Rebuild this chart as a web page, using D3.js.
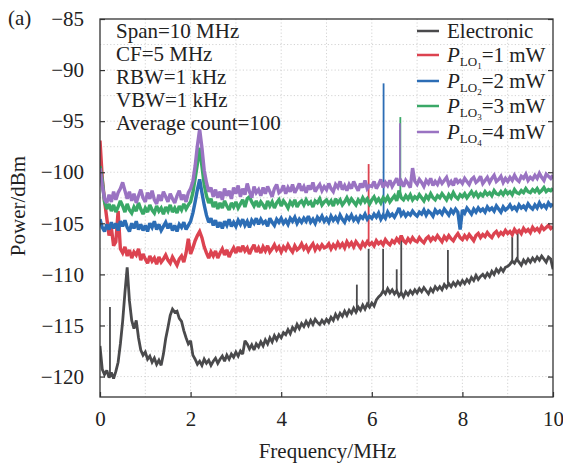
<!DOCTYPE html>
<html><head><meta charset="utf-8">
<script src="https://cdn.jsdelivr.net/npm/d3@7"></script>
<style>body{margin:0;background:#fff}svg{display:block}text{font-family:"Liberation Serif","Times New Roman",serif;fill:#222}</style>
</head><body><svg id="c" width="563" height="464"></svg>
<script>
// ---------- data ----------
const freqStep = 0.05; // MHz sample spacing
const xTicks = [0, 2, 4, 6, 8, 10];
const yTicks = [-85, -90, -95, -100, -105, -110, -115, -120];
const seriesNames = ["Electronic", "P_LO1", "P_LO2", "P_LO3", "P_LO4"];
const seriesLabels = ["1", "2", "3", "4"];
const annotations = ["Span=10 MHz", "CF=5 MHz", "RBW=1 kHz", "VBW=1 kHz", "Average count=100"];

const electronic = [
-117.0,-119.3,-119.8,-119.4,-120.1,-119.6,-120.2,-119.5,-118.6,-116.8,
-114.6,-111.8,-109.3,-112.6,-114.5,-115.3,-114.5,-116.2,-117.4,-117.9,
-117.6,-118.3,-118.0,-118.6,-118.2,-118.8,-118.4,-118.9,-117.8,-116.3,
-115.2,-114.0,-113.4,-113.7,-113.6,-114.3,-114.6,-115.5,-116.2,-116.8,
-116.5,-117.9,-118.3,-118.8,-118.5,-118.9,-118.3,-118.7,-118.4,-118.9,
-118.5,-118.2,-118.7,-118.3,-118.0,-118.5,-117.9,-118.3,-117.8,-118.1,
-117.6,-118.0,-117.5,-117.8,-116.5,-116.8,-117.3,-116.9,-117.4,-116.8,
-117.1,-116.6,-117.0,-116.4,-116.8,-116.2,-116.6,-116.0,-116.4,-115.9,
-116.2,-115.7,-115.9,-115.4,-115.8,-115.2,-115.5,-114.9,-115.3,-114.8,
-115.1,-114.6,-115.0,-114.5,-114.9,-114.4,-114.7,-114.9,-114.5,-114.8,
-114.4,-114.7,-114.2,-114.5,-113.9,-114.3,-113.8,-114.1,-113.6,-114.0,
-113.5,-113.8,-113.3,-113.7,-113.2,-113.5,-113.0,-113.4,-112.9,-113.2,
-112.8,-113.1,-112.5,-112.2,-112.0,-111.6,-111.9,-111.4,-111.8,-111.5,
-111.9,-111.6,-112.1,-111.8,-112.2,-111.7,-112.0,-111.6,-111.9,-111.5,
-111.8,-111.4,-111.7,-111.3,-111.6,-111.9,-111.4,-111.7,-111.2,-111.5,
-111.2,-111.5,-111.0,-111.3,-110.9,-111.2,-110.8,-111.1,-110.7,-111.0,
-110.6,-110.9,-110.5,-110.8,-110.3,-110.6,-110.1,-110.5,-110.2,-110.0,
-110.3,-109.9,-110.2,-109.7,-110.0,-109.5,-109.8,-109.4,-109.7,-109.3,
-109.2,-109.0,-108.7,-108.9,-108.5,-108.8,-109.1,-108.6,-108.9,-108.5,
-108.8,-108.4,-108.7,-108.3,-108.6,-108.2,-108.5,-108.8,-108.3,-108.5,
-109.5];
const electronicSpikeF = [0.22, 5.67, 5.93, 6.25, 6.55, 6.65, 7.68, 9.10, 9.22];
const electronicSpikeV = [-113.2, -111.0, -107.5, -107.5, -109.5, -106.5, -107.6, -106.3, -105.8];

const pLO1 = [
-96.9,-100.6,-102.8,-104.5,-106.2,-105.4,-107.2,-106.8,-103.8,-107.5,
-107.9,-107.3,-108.2,-107.6,-108.4,-107.8,-108.1,-107.5,-108.6,-108.0,
-108.5,-108.9,-108.2,-108.7,-108.4,-109.0,-108.3,-108.8,-108.5,-108.1,
-108.6,-108.9,-108.3,-108.7,-109.1,-108.5,-108.2,-108.8,-107.9,-106.5,
-108.0,-107.4,-106.7,-106.2,-105.8,-106.4,-107.3,-107.9,-108.4,-107.8,
-108.2,-107.7,-108.4,-107.9,-107.5,-108.1,-107.6,-108.3,-107.8,-107.4,
-107.9,-107.3,-107.8,-107.2,-107.7,-107.4,-108.0,-107.5,-107.1,-107.8,
-107.4,-107.9,-107.3,-107.7,-107.2,-107.8,-107.5,-107.1,-107.6,-107.3,
-107.8,-107.3,-107.6,-107.1,-107.5,-107.8,-107.2,-107.6,-107.4,-107.0,
-107.5,-107.2,-107.7,-107.3,-107.0,-107.6,-107.2,-107.5,-107.1,-107.4,
-107.3,-107.0,-107.5,-107.1,-107.4,-106.9,-107.3,-107.0,-107.4,-106.8,
-107.2,-106.9,-107.3,-106.8,-107.1,-107.4,-106.9,-107.2,-106.8,-107.1,
-106.9,-107.2,-106.7,-107.0,-106.8,-107.1,-106.6,-106.9,-107.1,-106.7,
-106.9,-106.5,-106.8,-106.2,-106.7,-106.9,-106.5,-106.8,-106.4,-106.7,
-106.8,-106.4,-106.7,-106.9,-106.5,-106.3,-106.7,-106.4,-106.6,-106.2,
-106.5,-106.8,-106.3,-106.6,-106.2,-106.5,-106.7,-106.3,-106.0,-106.4,
-106.6,-106.2,-106.5,-106.1,-106.4,-106.7,-106.2,-106.0,-106.4,-106.1,
-106.3,-105.9,-106.2,-106.4,-106.0,-105.8,-106.2,-105.9,-106.1,-105.7,
-106.0,-105.8,-106.1,-105.6,-105.9,-105.7,-106.0,-105.5,-105.8,-105.6,
-105.9,-105.4,-105.7,-105.5,-105.8,-105.3,-105.6,-105.4,-105.2,-105.5,
-105.3];
const pLO1SpikeF = [5.93];
const pLO1SpikeV = [-99.2];

const pLO2 = [
-104.6,-105.4,-105.8,-105.1,-105.6,-104.9,-105.5,-105.0,-105.7,-104.8,
-105.3,-104.7,-105.4,-105.8,-105.0,-105.5,-104.8,-105.6,-105.1,-105.7,
-105.2,-105.8,-105.0,-105.4,-104.8,-105.6,-105.1,-105.7,-105.3,-104.9,
-105.5,-105.0,-105.7,-105.2,-105.8,-105.1,-105.4,-104.9,-105.6,-105.2,
-104.8,-104.0,-102.9,-101.7,-100.7,-102.0,-103.2,-104.2,-104.9,-104.5,
-105.2,-104.7,-105.4,-104.9,-105.5,-104.8,-105.2,-104.6,-105.3,-104.9,
-105.3,-104.7,-105.1,-104.6,-105.2,-104.8,-105.4,-104.7,-105.0,-104.5,
-105.1,-104.6,-105.0,-104.8,-105.3,-104.5,-104.9,-105.2,-104.6,-104.9,
-104.5,-105.0,-104.7,-105.1,-104.5,-104.8,-104.4,-105.0,-104.6,-104.9,
-104.5,-104.8,-104.3,-104.9,-104.6,-105.0,-104.4,-104.7,-104.3,-104.8,
-104.5,-104.9,-104.3,-104.7,-104.4,-104.8,-104.2,-104.6,-104.9,-104.3,
-104.6,-104.2,-104.7,-104.4,-104.8,-104.3,-104.5,-104.1,-104.6,-104.3,
-104.5,-104.1,-104.4,-104.0,-104.6,-104.2,-104.5,-103.9,-104.3,-104.1,
-104.4,-104.0,-103.5,-104.2,-103.9,-104.3,-104.0,-104.2,-103.8,-104.1,
-104.3,-103.9,-104.1,-103.7,-104.2,-103.8,-104.0,-104.3,-103.7,-104.0,
-103.8,-104.1,-103.6,-103.9,-104.2,-103.7,-104.0,-103.6,-103.9,-105.6,
-103.7,-104.0,-103.5,-103.8,-104.1,-103.6,-103.9,-103.5,-103.8,-103.6,
-103.9,-103.4,-103.7,-103.5,-103.8,-103.3,-103.6,-103.9,-103.4,-103.7,
-103.5,-103.2,-103.6,-103.4,-103.7,-103.2,-103.5,-103.3,-103.6,-103.1,
-103.4,-103.6,-103.2,-103.5,-103.0,-103.4,-103.2,-103.5,-103.0,-103.3,
-103.1];
const pLO2SpikeF = [6.26];
const pLO2SpikeV = [-91.3];

const pLO3 = [
-99.4,-100.8,-102.9,-103.6,-103.1,-103.8,-103.2,-103.9,-103.4,-102.8,
-103.3,-103.9,-103.1,-103.7,-104.0,-103.4,-103.8,-103.0,-103.6,-104.1,
-103.5,-103.9,-103.2,-103.7,-104.0,-103.3,-103.8,-103.5,-104.1,-103.4,
-103.8,-103.2,-103.9,-103.5,-104.0,-103.3,-103.7,-103.1,-103.6,-103.2,
-102.9,-102.0,-100.6,-99.2,-97.6,-99.4,-101.2,-102.3,-103.0,-102.6,
-103.4,-102.9,-103.6,-103.0,-103.5,-102.8,-103.3,-103.7,-103.0,-103.4,
-102.9,-103.5,-103.1,-102.7,-103.4,-102.6,-102.4,-102.9,-103.3,-102.8,
-103.4,-102.9,-103.2,-103.6,-102.8,-103.3,-102.9,-103.5,-103.0,-102.7,
-103.3,-102.8,-103.1,-103.5,-102.9,-103.2,-102.7,-103.4,-103.0,-102.8,
-103.2,-102.7,-103.1,-102.9,-103.4,-102.8,-103.0,-102.6,-103.2,-102.9,
-102.7,-103.1,-102.8,-103.3,-102.6,-103.0,-102.7,-103.2,-102.9,-102.5,
-103.0,-102.6,-102.9,-103.2,-102.7,-103.0,-102.5,-102.9,-102.6,-103.1,
-102.7,-102.4,-102.9,-102.6,-103.0,-102.5,-102.8,-102.4,-102.9,-102.6,
-102.3,-102.8,-101.8,-102.5,-102.7,-102.3,-102.6,-102.2,-102.7,-102.4,
-102.6,-102.2,-102.5,-102.8,-102.3,-102.6,-102.1,-102.5,-102.7,-102.3,
-102.5,-102.1,-102.4,-102.7,-102.2,-102.5,-102.0,-102.4,-102.6,-102.2,
-102.4,-102.1,-102.5,-102.2,-101.9,-102.3,-102.0,-102.4,-102.1,-102.3,
-101.9,-102.2,-102.0,-102.3,-101.8,-102.1,-102.2,-101.9,-102.2,-101.8,
-102.1,-101.9,-102.2,-101.7,-102.0,-102.1,-101.8,-102.0,-101.6,-101.9,
-102.0,-101.7,-101.9,-101.6,-102.0,-101.8,-101.5,-101.9,-101.7,-101.8,
-101.6];
const pLO3SpikeF = [6.63];
const pLO3SpikeV = [-94.6];

const pLO4 = [
-99.6,-101.3,-102.6,-103.0,-102.2,-102.9,-101.9,-102.7,-102.0,-101.6,
-101.0,-101.8,-102.6,-101.9,-102.8,-102.1,-103.0,-102.3,-101.7,-102.5,
-102.9,-102.0,-102.6,-101.8,-102.7,-103.1,-102.2,-102.8,-101.9,-102.4,
-102.9,-102.1,-102.6,-103.0,-102.3,-101.8,-102.7,-102.2,-102.9,-102.0,
-101.6,-100.9,-99.4,-97.4,-95.8,-97.6,-99.8,-101.0,-101.9,-101.5,
-102.4,-101.7,-102.5,-101.9,-102.7,-101.6,-102.3,-101.8,-102.6,-101.5,
-102.1,-101.3,-102.4,-101.6,-102.2,-101.1,-101.9,-102.5,-101.4,-102.0,
-101.7,-102.3,-101.5,-102.1,-101.4,-101.9,-102.4,-101.6,-101.2,-102.0,
-101.8,-101.3,-102.1,-101.5,-101.9,-101.2,-102.0,-101.6,-101.1,-101.8,
-101.4,-102.0,-101.3,-101.7,-101.0,-101.9,-101.5,-101.2,-101.8,-101.4,
-101.7,-101.1,-101.6,-101.9,-101.2,-101.5,-100.9,-101.7,-101.3,-101.8,
-101.2,-101.6,-100.9,-101.4,-101.8,-101.1,-101.5,-100.8,-101.6,-101.3,
-101.4,-100.9,-101.6,-101.2,-100.7,-101.5,-101.0,-101.3,-100.8,-101.4,
-101.0,-100.6,-101.3,-100.9,-101.4,-100.8,-101.1,-101.5,-99.6,-100.9,
-101.2,-100.7,-101.0,-101.4,-100.8,-101.1,-100.6,-101.3,-100.9,-101.2,
-100.7,-101.1,-100.8,-100.5,-101.2,-100.9,-101.3,-100.6,-101.0,-100.8,
-101.1,-100.6,-100.9,-101.2,-100.7,-100.5,-101.0,-100.8,-100.4,-101.1,
-100.8,-100.5,-101.0,-100.6,-100.3,-100.9,-100.7,-100.4,-101.0,-100.6,
-100.9,-100.5,-100.8,-100.3,-100.7,-100.9,-100.4,-100.6,-100.2,-100.8,
-100.5,-100.7,-100.3,-100.6,-100.1,-100.5,-100.8,-100.2,-100.4,-100.6,
-100.3];
const pLO4SpikeF = [6.62];
const pLO4SpikeV = [-95.2];

const colors = ["#4a4a4c", "#dc4350", "#2c6db5", "#3aa867", "#9a73c2"];

// ---------- chart ----------
const W = 563, H = 464;
const m = {left: 100, right: 10, top: 19, bottom: 67};
const svg = d3.select("#c");
const x = d3.scaleLinear().domain([0, 10]).range([m.left, W - m.right]);
const y = d3.scaleLinear().domain([-122, -85]).range([H - m.bottom, m.top]);

const seriesDefs = [
  [electronic, electronicSpikeF, electronicSpikeV],
  [pLO1, pLO1SpikeF, pLO1SpikeV],
  [pLO2, pLO2SpikeF, pLO2SpikeV],
  [pLO3, pLO3SpikeF, pLO3SpikeV],
  [pLO4, pLO4SpikeF, pLO4SpikeV]
];
const traces = seriesDefs.map(([vals]) => vals.map((v, i) => [i * freqStep, v]));
const spikes = seriesDefs.map(([vals, sf, sv]) =>
  sf.map((f, k) => [[f, vals[Math.round(f / freqStep)]], [f, sv[k]]]));

// grid
const g = svg.append("g");
g.selectAll(".gx").data(d3.range(1, 10)).join("line")
  .attr("x1", d => x(d)).attr("x2", d => x(d)).attr("y1", y(-85)).attr("y2", y(-122))
  .attr("stroke", "#c8c8c8").attr("stroke-width", 0.8).attr("stroke-dasharray", "1.2,2.2");
g.selectAll(".gy").data(d3.range(-120, -85, 2.5)).join("line")
  .attr("y1", d => y(d)).attr("y2", d => y(d)).attr("x1", x(0)).attr("x2", x(10))
  .attr("stroke", "#c8c8c8").attr("stroke-width", 0.8).attr("stroke-dasharray", "1.2,2.2");

// clip
svg.append("clipPath").attr("id", "clip").append("rect")
  .attr("x", x(0)).attr("y", y(-85)).attr("width", x(10) - x(0)).attr("height", y(-122) - y(-85));

const line = d3.line().x(d => x(d[0])).y(d => y(d[1]));
const plot = svg.append("g").attr("clip-path", "url(#clip)");
traces.forEach((tr, i) => {
  plot.append("path").attr("d", line(tr)).attr("fill", "none").attr("stroke", colors[i])
    .attr("stroke-width", i === 0 ? 2.8 : 3.4).attr("stroke-linejoin", "miter").attr("stroke-miterlimit", 2.5);
  spikes[i].forEach(s => {
    plot.append("path").attr("d", line(s)).attr("fill", "none").attr("stroke", colors[i])
      .attr("stroke-width", 1.8);
  });
});

// axes
const xAxis = d3.axisBottom(x).tickValues(xTicks).tickSize(-5).tickPadding(14).tickFormat(d3.format("d"));
const gx = svg.append("g").attr("transform", `translate(0,${y(-122)})`).call(xAxis);
const fmt = d => (d < 0 ? "\u2212" + Math.abs(d) : d);
const yAxis = d3.axisLeft(y).tickValues(yTicks).tickSize(-5).tickPadding(16).tickFormat(fmt);
const gy = svg.append("g").attr("transform", `translate(${x(0)},0)`).call(yAxis);
const yAxisR = d3.axisRight(y).tickValues(yTicks).tickSize(-5).tickFormat("");
const gyr = svg.append("g").attr("transform", `translate(${x(10)},0)`).call(yAxisR);
[gx, gy, gyr].forEach(a => {
  a.select(".domain").remove();
  a.selectAll(".tick line").attr("stroke", "#333").attr("stroke-width", 1.2);
  a.selectAll("text").attr("font-size", 21).attr("fill", "#222")
    .attr("font-family", "'Liberation Serif','Times New Roman',serif");
});
// frame
svg.append("rect").attr("x", x(0)).attr("y", y(-85)).attr("width", x(10) - x(0)).attr("height", y(-122) - y(-85))
  .attr("fill", "none").attr("stroke", "#333").attr("stroke-width", 1.3);

// axis titles
svg.append("text").attr("x", (x(0) + x(10)) / 2 + 1).attr("y", 458).attr("text-anchor", "middle")
  .attr("font-size", 21).text("Frequency/MHz");
svg.append("text").attr("transform", "translate(25,206) rotate(-90)").attr("text-anchor", "middle")
  .attr("font-size", 21).text("Power/dBm");
svg.append("text").attr("x", 8).attr("y", 25).attr("font-size", 21).text("(a)");

// annotations
svg.append("g").selectAll("text").data(annotations).join("text")
  .attr("x", 116).attr("y", (d, i) => 38 + i * 23).attr("font-size", 21).text(d => d);

// legend
const legY = [31, 55, 81, 106, 132];
const lg = svg.append("g");
seriesNames.forEach((n, i) => {
  lg.append("line").attr("x1", 417).attr("x2", 439).attr("y1", legY[i]).attr("y2", legY[i])
    .attr("stroke", colors[i]).attr("stroke-width", 2.5);
  const t = lg.append("text").attr("x", 447).attr("y", legY[i] + 7).attr("font-size", 21);
  if (i === 0) { t.text("Electronic"); return; }
  t.append("tspan").attr("font-style", "italic").text("P");
  t.append("tspan").attr("font-size", 13).attr("dy", 4).text("LO");
  t.append("tspan").attr("font-size", 9).attr("dy", 3).text(seriesLabels[i - 1]);
  t.append("tspan").attr("dy", -7).text("=" + seriesLabels[i - 1] + " mW");
});
</script></body></html>
